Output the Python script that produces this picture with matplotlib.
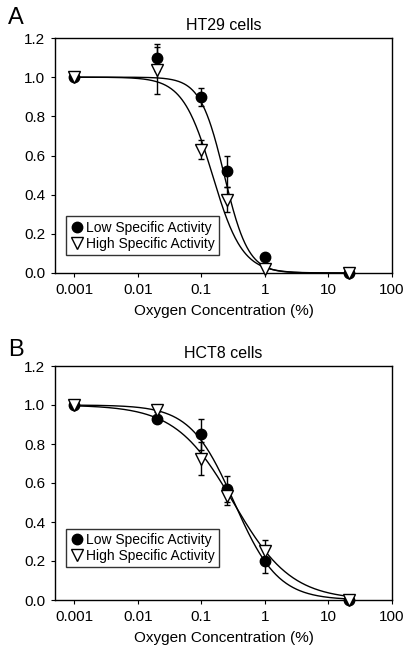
import numpy as np
import matplotlib
matplotlib.use("Agg")
import matplotlib.pyplot as plt

plt.rcParams['font.family'] = ['Liberation Sans', 'DejaVu Sans']

# ---- data ----
oxygen = [0.001, 0.02, 0.1, 0.25, 1.0, 21.0]

ht29_low = [1.00, 1.10, 0.90, 0.52, 0.08, 0.00]
ht29_low_err = [0.0, 0.07, 0.045, 0.08, 0.01, 0.0]
ht29_high = [1.00, 1.035, 0.63, 0.375, 0.02, 0.00]
ht29_high_err = [0.0, 0.12, 0.05, 0.065, 0.0, 0.0]

hct8_low = [1.00, 0.93, 0.85, 0.57, 0.20, 0.00]
hct8_low_err = [0.0, 0.01, 0.08, 0.065, 0.06, 0.0]
hct8_high = [1.00, 0.975, 0.725, 0.535, 0.25, 0.00]
hct8_high_err = [0.0, 0.01, 0.085, 0.05, 0.06, 0.0]

# Hill fit parameters (IC50 in %, slope)
ht29_low_fit = (0.23, 2.3)
ht29_high_fit = (0.15, 1.85)
hct8_low_fit = (0.33, 1.26)
hct8_high_fit = (0.32, 0.95)

panels = [
    ("A", "HT29 cells", ht29_low, ht29_low_err, ht29_high, ht29_high_err,
     ht29_low_fit, ht29_high_fit, (0.033, 0.077)),
    ("B", "HCT8 cells", hct8_low, hct8_low_err, hct8_high, hct8_high_err,
     hct8_low_fit, hct8_high_fit, (0.033, 0.14)),
]

fig = plt.figure(figsize=(4.11, 6.57), dpi=100)
W, H = 411, 657
axes_pos = [(55, 38, 392, 273), (55, 366, 392, 600)]
label_pos = [(16, 18), (16, 350)]

xs = np.logspace(np.log10(0.001), np.log10(21), 400)

for (letter, title, lo, loe, hi, hie, lofit, hifit, legxy), (l, t, r, b), (lx, ly) in zip(panels, axes_pos, label_pos):
    ax = fig.add_axes([l / W, 1 - b / H, (r - l) / W, (b - t) / H])
    ax.set_xscale('log')
    for K, n in (lofit, hifit):
        ax.plot(xs, 1 / (1 + (xs / K) ** n), color='black', lw=1.0, zorder=2)
    ax.errorbar(oxygen, lo, yerr=loe, fmt='none', ecolor='black', elinewidth=1.0,
                capsize=2.5, capthick=1.0, zorder=3)
    ax.errorbar(oxygen, hi, yerr=hie, fmt='none', ecolor='black', elinewidth=1.0,
                capsize=2.5, capthick=1.0, zorder=3)
    h1, = ax.plot(oxygen, lo, 'o', color='black', ms=7.5, mec='black', zorder=4,
                  label='Low Specific Activity', clip_on=False)
    h2, = ax.plot(oxygen, hi, 'v', color='white', ms=8.5, mec='black', mew=1.0, zorder=5,
                  label='High Specific Activity', clip_on=False)
    ax.set_xlim(0.0005, 100)
    ax.set_ylim(0, 1.2)
    ax.set_yticks([0, 0.2, 0.4, 0.6, 0.8, 1.0, 1.2])
    ax.set_yticklabels(['0.0', '0.2', '0.4', '0.6', '0.8', '1.0', '1.2'])
    ax.set_xticks([0.001, 0.01, 0.1, 1, 10, 100])
    ax.set_xticklabels(['0.001', '0.01', '0.1', '1', '10', '100'])
    ax.xaxis.set_minor_locator(matplotlib.ticker.NullLocator())
    ax.tick_params(axis='both', direction='out', length=3, width=0.8,
                   labelsize=11, top=False, right=False, pad=4)
    for s in ax.spines.values():
        s.set_linewidth(1.0)
    ax.set_xlabel('Oxygen Concentration (%)', fontsize=11, labelpad=5)
    ax.set_title(title, fontsize=11.5, pad=6)
    leg = ax.legend(handles=[h1, h2], loc='lower left', bbox_to_anchor=legxy,
                    fontsize=10, frameon=True, fancybox=False, edgecolor='black',
                    handlelength=0.9, handletextpad=0.25, borderpad=0.3,
                    labelspacing=0.15, borderaxespad=0)
    leg.get_frame().set_linewidth(1.0)
    fig.text(lx / W, 1 - ly / H, letter, fontsize=17, ha='center', va='center')

fig.savefig('out.png', dpi=100)
